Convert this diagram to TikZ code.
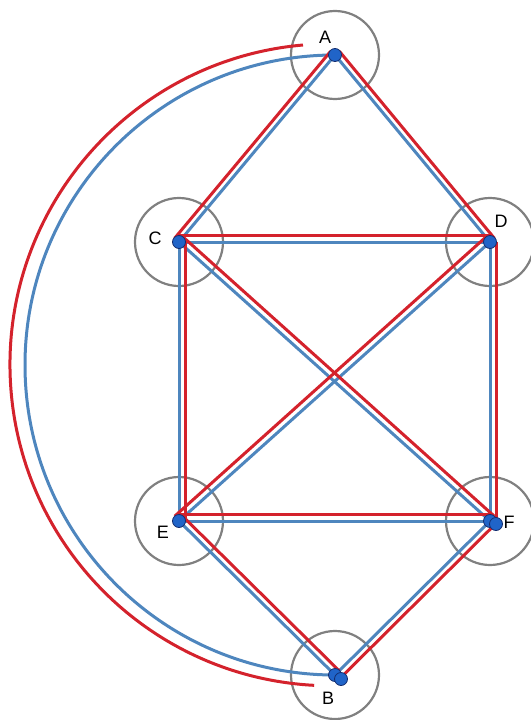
\documentclass[tikz,border=0pt]{standalone}
\usepackage{fontspec}
\setmainfont{Liberation Sans}
\definecolor{edgeblue}{RGB}{78,134,190}
\definecolor{edgered}{RGB}{212,34,44}
\definecolor{ringgray}{RGB}{128,128,128}
\definecolor{dotfill}{RGB}{32,100,200}
\definecolor{dotline}{RGB}{20,45,110}
\begin{document}
\begin{tikzpicture}[x=1pt,y=1pt,
  ring/.style={draw=ringgray,line width=2.2pt},
  bluel/.style={draw=edgeblue,line width=3pt},
  redl/.style={draw=edgered,line width=3pt},
  vdot/.style={circle,fill=dotfill,draw=dotline,line width=0.8pt,minimum size=13pt,inner sep=0pt},
  lab/.style={font=\fontsize{18}{18}\selectfont,inner sep=0pt}]
\useasboundingbox (0,0) rectangle (530,-720);
% positions
\coordinate (A) at (335,-55);
\coordinate (C) at (179,-242);
\coordinate (D) at (490,-242);
\coordinate (E) at (179,-521);
\coordinate (F) at (490,-521);
\coordinate (B) at (335,-675);
\coordinate (F2) at (496,-524);
\coordinate (B2) at (341,-679);
\coordinate (ra1) at (303,-45);
% rings
\foreach \n in {A,C,D,E,F,B} \draw[ring] (\n) circle[radius=44];
% blue edges
\draw[bluel] (A) -- (C);
\draw[bluel] (A) -- (D);
\draw[bluel] (C) -- (D);
\draw[bluel] (C) -- (E);
\draw[bluel] (D) -- (F);
\draw[bluel] (E) -- (F);
\draw[bluel] (C) -- (F);
\draw[bluel] (D) -- (E);
\draw[bluel] (E) -- (B);
\draw[bluel] (F) -- (B);
\draw[bluel] (A) arc[start angle=90,end angle=270,radius=310];
% red edges
\draw[redl] ([shift={(-4.4,3.7)}]A) -- ([shift={(-4.4,3.7)}]C);
\draw[redl] ([shift={(4.4,3.7)}]A) -- ([shift={(4.4,3.7)}]D);
\draw[redl] ([shift={(0,6.5)}]C) -- ([shift={(0,6.5)}]D);
\draw[redl] ([shift={(6,0)}]C) -- ([shift={(6,0)}]E);
\draw[redl] ([shift={(6.5,0)}]D) -- ([shift={(6.5,0)}]F);
\draw[redl] ([shift={(0,6.5)}]E) -- ([shift={(0,6.5)}]F);
\draw[redl] ([shift={(4.3,4.8)}]C) -- ([shift={(4.3,4.8)}]F);
\draw[redl] ([shift={(-4.3,4.8)}]D) -- ([shift={(-4.3,4.8)}]E);
\draw[redl] ([shift={(4.2,4.2)}]E) -- ([shift={(4.2,4.2)}]B);
\draw[redl] ([shift={(4.2,-4.2)}]F) -- ([shift={(4.2,-4.2)}]B);
\draw[redl] (ra1) arc[start angle=95,end angle=267,radius=321];
% dots
\node[vdot] (dA) at (A) {};
\node[vdot] (dC) at (C) {};
\node[vdot] (dD) at (D) {};
\node[vdot] (dE) at (E) {};
\node[vdot] (dF) at (F) {};
\node[vdot] (dF2) at (F2) {};
\node[vdot] (dB) at (B) {};
\node[vdot] (dB2) at (B2) {};
% labels
\node[lab] (lA) at (325,-37) {A};
\node[lab] (lC) at (155,-238) {C};
\node[lab] (lD) at (501,-221) {D};
\node[lab] (lE) at (163,-532) {E};
\node[lab] (lF) at (509,-522) {F};
\node[lab] (lB) at (328,-698) {B};
\end{tikzpicture}
\end{document}
